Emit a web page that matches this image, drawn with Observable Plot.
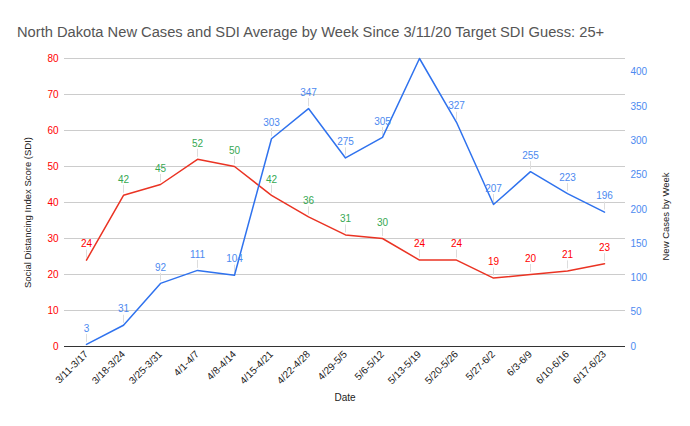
<!DOCTYPE html>
<html><head><meta charset="utf-8">
<script src="https://cdn.jsdelivr.net/npm/d3@7"></script>
<script src="https://cdn.jsdelivr.net/npm/@observablehq/plot@0.6"></script>
<style>
body{margin:0;background:#fff;font-family:Arial,"Liberation Sans",sans-serif}
#title{height:50px;box-sizing:border-box;padding:23px 0 0 17px;font-size:14.7px;color:#555;line-height:18px;white-space:nowrap}
</style></head><body>
<div id="title">North Dakota New Cases and SDI Average by Week Since 3/11/20 Target SDI Guess: 25+</div>
<div id="chart"></div>
<script>
const weeks = ["3/11-3/17","3/18-3/24","3/25-3/31","4/1-4/7","4/8-4/14","4/15-4/21","4/22-4/28","4/29-5/5","5/6-5/12","5/13-5/19","5/20-5/26","5/27-6/2","6/3-6/9","6/10-6/16","6/17-6/23"];
const sdi = [24,42,45,52,50,42,36,31,30,24,24,19,20,21,23];
const cases = [3,31,92,111,104,303,347,275,305,420,327,207,255,223,196];
const leftTicks = [0,10,20,30,40,50,60,70,80];
const rightTicks = [0,50,100,150,200,250,300,350,400];
const sdiMax = 80, casesMax = 420, sdiTarget = 25;

const k = sdiMax / casesMax;
const rows = weeks.map((w, i) => ({week: w, sdi: sdi[i], cases: cases[i], cs: cases[i] * k}));
const caseLabels = rows.filter(d => d.cases < casesMax);

const chart = Plot.plot({
  width: 690, height: 376,
  marginTop: 8, marginBottom: 80, marginLeft: 64, marginRight: 65,
  style: {fontFamily: "Arial, 'Liberation Sans', sans-serif", fontSize: "10px", background: "#fff"},
  x: {domain: weeks, type: "point", padding: 0.5},
  y: {domain: [0, sdiMax]},
  marks: [
    Plot.gridY(leftTicks, {stroke: "#cccccc", strokeOpacity: 1}),
    Plot.ruleY([0], {stroke: "#333"}),
    Plot.axisY(leftTicks, {anchor: "left", tickSize: 0, tickPadding: 6, color: "#ff0000", fontSize: 10, label: null}),
    Plot.axisY(rightTicks.map(v => v * k), {anchor: "right", tickSize: 0, tickPadding: 5, color: "#4d8af0", fontSize: 10, tickFormat: v => String(Math.round(v / k)), label: null}),
    Plot.axisX({tickSize: 0, tickRotate: -45, tickPadding: 6, color: "#222", fontSize: 10, label: null}),
    Plot.text(["Social Distancing Index Score (SDI)"], {frameAnchor: "left", textAnchor: "middle", dx: -37, dy: 10, rotate: -90, fontSize: 9.5, fill: "#222"}),
    Plot.text(["New Cases by Week"], {frameAnchor: "right", textAnchor: "middle", dx: 40, dy: 14, rotate: -90, fontSize: 9.5, fill: "#222"}),
    Plot.text(["Date"], {frameAnchor: "bottom", dy: 54, fontSize: 10, fill: "#222"}),
    Plot.ruleX(rows, {x: "week", y1: "sdi", y2: "sdi", insetTop: -10, insetBottom: 2, stroke: "#dddddd"}),
    Plot.ruleX(caseLabels, {x: "week", y1: "cs", y2: "cs", insetTop: -10, insetBottom: 2, stroke: "#dddddd"}),
    Plot.lineY(rows, {x: "week", y: "sdi", stroke: "#ea3323", strokeWidth: 1.5}),
    Plot.lineY(rows, {x: "week", y: "cs", stroke: "#2f72ee", strokeWidth: 1.5}),
    Plot.text(rows, {x: "week", y: "sdi", text: d => String(d.sdi), dy: -16, fontSize: 10,
      fill: d => d.sdi > sdiTarget ? "#36a852" : "#ff0000"}),
    Plot.text(caseLabels, {x: "week", y: "cs", text: d => String(d.cases), dy: -16, fontSize: 10, fill: "#4d8af0"})
  ]
});
document.getElementById("chart").appendChild(chart);
</script>
</body></html>
